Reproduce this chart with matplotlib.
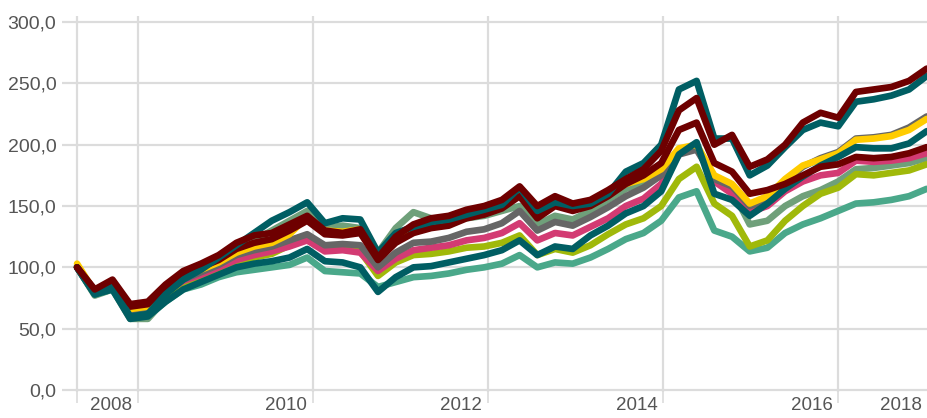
import matplotlib.pyplot as plt
import matplotlib.transforms as mtransforms
import numpy as np

# sample times (decimal years), one value every ~2.4 months
t = np.linspace(2007.31, 2017.01, 49)

sage = [100, 77, 82, 58, 58, 74, 86, 94, 104, 114, 122, 130, 138, 146, 132, 134, 132, 112, 132, 145,
        140, 138, 140, 142, 146, 150, 135, 142, 139, 146, 155, 164, 169, 176, 193, 197, 172, 163, 135, 138,
        150, 158, 163, 170, 180, 181, 183, 185, 189]
sea_green = [100, 78, 82, 60, 60, 72, 82, 86, 92, 96, 98, 100, 102, 108, 97, 96, 95, 84, 88, 92,
             93, 95, 98, 100, 103, 110, 100, 104, 103, 108, 115, 123, 128, 138, 157, 162, 130, 125, 113, 116,
             128, 135, 140, 146, 152, 153, 155, 158, 164]
yellow_green = [101, 80, 85, 64, 65, 78, 86, 90, 97, 103, 108, 111, 118, 126, 116, 115, 113, 93, 104, 110,
                111, 113, 116, 117, 120, 126, 110, 115, 112, 118, 127, 135, 140, 150, 172, 182, 152, 142, 117, 122,
                138, 150, 160, 165, 176, 175, 177, 179, 184]
pink = [100, 80, 86, 66, 67, 80, 89, 94, 100, 106, 110, 113, 117, 122, 113, 114, 112, 97, 107, 114,
        116, 118, 122, 124, 128, 136, 122, 128, 126, 133, 140, 150, 156, 168, 192, 199, 170, 160, 145, 150,
        162, 170, 175, 177, 187, 186, 187, 189, 193]
gray = [101, 80, 85, 65, 67, 80, 90, 96, 102, 110, 114, 117, 122, 127, 118, 119, 118, 100, 112, 120,
        121, 124, 129, 131, 136, 146, 130, 137, 134, 141, 149, 158, 165, 175, 192, 196, 172, 166, 150, 155,
        170, 182, 189, 194, 205, 206, 208, 214, 223]
gold = [103, 80, 86, 66, 68, 82, 92, 98, 104, 112, 117, 120, 127, 141, 130, 129, 131, 109, 123, 131,
        135, 137, 143, 146, 151, 161, 143, 153, 149, 153, 160, 168, 172, 180, 197, 200, 175, 168, 152, 158,
        172, 183, 188, 193, 204, 205, 207, 212, 221]
teal_b = [100, 78, 82, 58, 60, 72, 82, 88, 94, 100, 103, 105, 108, 115, 105, 104, 100, 80, 92, 100,
          101, 104, 107, 110, 114, 122, 110, 117, 115, 126, 134, 144, 150, 162, 192, 202, 160, 155, 142, 152,
          164, 174, 183, 190, 198, 197, 197, 201, 211]
maroon_b = [100, 81, 88, 68, 70, 84, 95, 100, 106, 115, 120, 123, 130, 138, 127, 126, 128, 106, 120, 128,
            132, 134, 140, 143, 148, 158, 140, 150, 146, 150, 158, 168, 175, 185, 212, 218, 185, 178, 160, 163,
            168, 175, 182, 184, 190, 189, 190, 193, 198]
teal_a = [100, 78, 84, 60, 62, 78, 90, 98, 108, 118, 128, 138, 145, 153, 136, 140, 139, 112, 128, 133,
          137, 139, 143, 147, 151, 165, 146, 153, 150, 152, 160, 178, 185, 200, 245, 252, 205, 205, 175, 183,
          198, 212, 218, 215, 235, 237, 240, 245, 256]
maroon_a = [100, 82, 90, 70, 72, 86, 97, 103, 110, 120, 126, 128, 135, 142, 130, 128, 131, 108, 125, 135,
            140, 142, 147, 150, 155, 166, 150, 158, 152, 155, 163, 172, 180, 195, 228, 238, 200, 208, 182, 188,
            200, 218, 226, 222, 243, 245, 247, 252, 262]

series = [sage, sea_green, yellow_green, pink, gray, gold, teal_b, maroon_b, teal_a, maroon_a]
colors = ['#6fa07a', '#4aa88a', '#a0b90a', '#d33b73', '#666666', '#ffcc00',
          '#005e63', '#6e0000', '#005e63', '#6e0000']

year_ticks = [t[0], 2008, 2010, 2012, 2014, 2016]
year_labels = ['', '2008', '2010', '2012', '2014', '2016']
y_ticks = [0, 50, 100, 150, 200, 250, 300]

plt.rcParams['font.family'] = ['Liberation Sans', 'DejaVu Sans']
fig = plt.figure(figsize=(9.27, 4.18), dpi=100)
ax = fig.add_axes([62/927, 0.0611, 1 - 62/927, 0.9009])

for s, c in zip(series, colors):
    ax.plot(t, s, color=c, lw=4.8, solid_capstyle='round', solid_joinstyle='round')

ax.set_xlim(2007.138, 2017.013)
ax.set_ylim(-2, 305)
ax.set_yticks(y_ticks)
ax.set_yticklabels([f'{v:.1f}'.replace('.', ',') for v in y_ticks])
ax.set_xticks(year_ticks)
ax.set_xticklabels(year_labels)
ax.set_xticks([2017.013], labels=['2018'], minor=True)

ax.grid(True, color='#dcdcdc', lw=1.6)
ax.set_axisbelow(True)
for sp in ax.spines.values():
    sp.set_visible(False)

ax.tick_params(axis='y', length=0, pad=4, labelsize=14, labelcolor='#555555')
ax.tick_params(axis='x', which='major', length=8, width=1.2, color='#dcdcdc', pad=-4.5,
               labelsize=13.5, labelcolor='#555555')
ax.tick_params(axis='x', which='minor', length=0, pad=3.5, labelsize=13.5, labelcolor='#555555')

off = mtransforms.ScaledTranslation(-4/72, 0, fig.dpi_scale_trans)
for lab in ax.get_xticklabels() + ax.get_xticklabels(minor=True):
    lab.set_horizontalalignment('right')
    lab.set_transform(lab.get_transform() + off)

fig.savefig('out.png', dpi=100)
